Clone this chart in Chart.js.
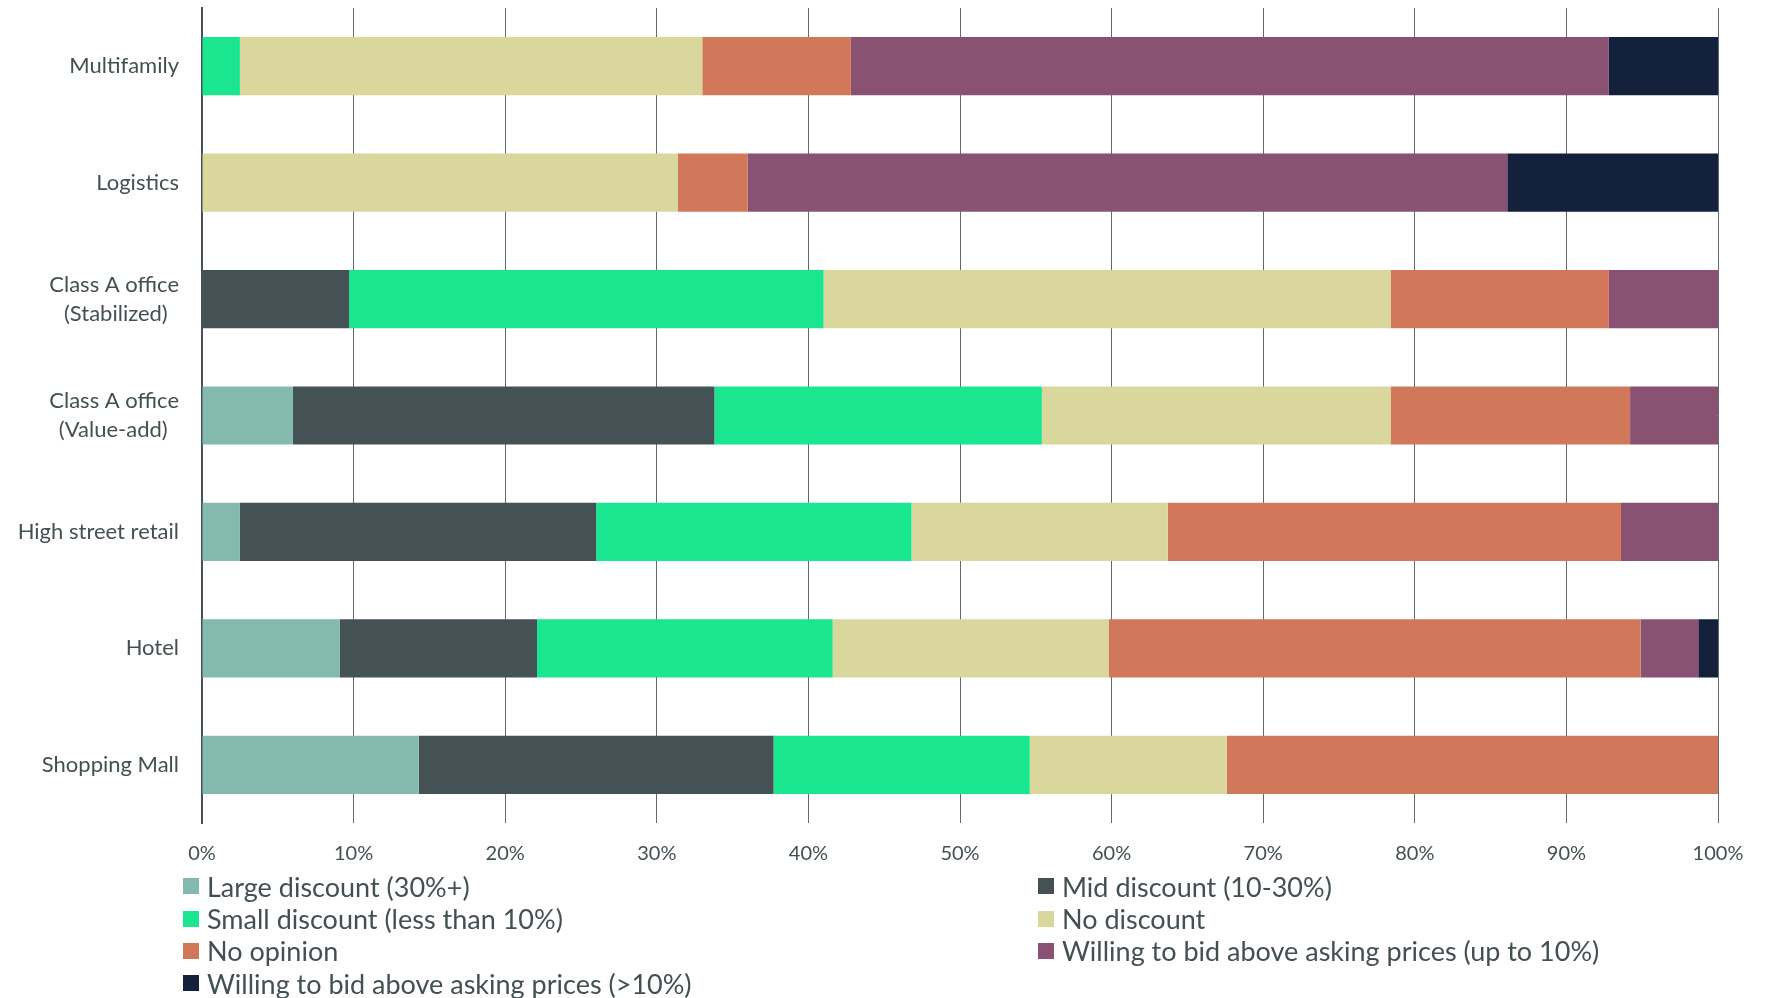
<!DOCTYPE html>
<html>
<head>
<meta charset="utf-8">
<script src="https://cdn.jsdelivr.net/npm/chart.js@4/dist/chart.umd.min.js"></script>
<style>
    html, body { margin: 0; padding: 0; background: #ffffff; }
    #wrap { position: relative; width: 1773px; height: 998px; }
    #legend {
        position: absolute; left: 183px; top: 870px; width: 1580px;
        display: grid; grid-template-columns: 855px 720px;
        font-family: Lato, "Open Sans", sans-serif; font-size: 27px; color: #435052;
    }
    .item { display: flex; align-items: center; height: 32.4px; white-space: nowrap; }
    .box { width: 16px; height: 16px; margin-right: 8px; flex: none; }
</style>
</head>
<body>
<div id="wrap">
    <canvas id="myChart" width="1773" height="998"></canvas>
    <div id="legend"></div>
</div>
<script>
// categories (top to bottom)
const categories = [
    'Multifamily',
    'Logistics',
    ['Class A office', '(Stabilized)'],
    ['Class A office', '(Value-add)'],
    'High street retail',
    'Hotel',
    'Shopping Mall'
];

// series values, % of respondents
const largeDiscount = [0, 0, 0, 6.0, 2.5, 9.1, 14.3];
const midDiscount = [0, 0, 9.7, 27.8, 23.5, 13.0, 23.4];
const smallDiscount = [2.5, 0, 31.3, 21.6, 20.8, 19.5, 16.9];
const noDiscount = [30.5, 31.4, 37.4, 23.0, 16.9, 18.2, 13.0];
const noOpinion = [9.8, 4.6, 14.4, 15.8, 29.9, 35.1, 32.5];
const bidUpTo10 = [50.0, 50.1, 7.2, 5.8, 6.4, 3.8, 0];
const bidAbove10 = [7.2, 13.9, 0, 0, 0, 1.3, 0];

const seriesNames = [
    'Large discount (30%+)',
    'Mid discount (10-30%)',
    'Small discount (less than 10%)',
    'No discount',
    'No opinion',
    'Willing to bid above asking prices (up to 10%)',
    'Willing to bid above asking prices (>10%)'
];
const seriesColors = ['#83baad', '#445256', '#19e68f', '#dad79d', '#d2785a', '#895172', '#14213d'];
const seriesData = [largeDiscount, midDiscount, smallDiscount, noDiscount, noOpinion, bidUpTo10, bidAbove10];

// x axis ticks
const tickValues = [0, 10, 20, 30, 40, 50, 60, 70, 80, 90, 100];

const textColor = '#435052';
const fontFamily = 'Lato, "Open Sans", sans-serif';
const yFontSize = 22;

// two-line labels are centred on each other in the original, so pad the
// shorter line with trailing nbsp's (the whole block stays right aligned)
const measureCtx = document.createElement('canvas').getContext('2d');
const centerLines = (label) => {
    if (!Array.isArray(label)) return label;
    measureCtx.font = yFontSize + 'px ' + fontFamily;
    const widths = label.map(l => measureCtx.measureText(l).width);
    const maxW = Math.max(...widths);
    const spaceW = measureCtx.measureText('\u00a0').width;
    return label.map((l, i) => {
        const n = Math.round((maxW - widths[i]) / 2 / spaceW);
        return l + '\u00a0'.repeat(n);
    });
};

const renderChart = () => {
    const canvas = document.getElementById('myChart');
    const ctx = canvas.getContext('2d');

    const datasets = seriesNames.map((name, i) => ({
        label: name,
        data: seriesData[i],
        backgroundColor: seriesColors[i],
        borderWidth: 0,
        barPercentage: 0.5,
        categoryPercentage: 1.0
    }));

    window.myChart = new Chart(ctx, {
        type: 'bar',
        data: { labels: categories, datasets: datasets },
        options: {
            indexAxis: 'y',
            responsive: false,
            animation: false,
            layout: { padding: { top: 8, right: 55, bottom: 133, left: 0 } },
            plugins: {
                legend: { display: false },
                tooltip: { enabled: false }
            },
            scales: {
                x: {
                    stacked: true,
                    min: 0,
                    max: 100,
                    afterBuildTicks: (scale) => {
                        scale.ticks = tickValues.map(v => ({ value: v }));
                    },
                    afterFit: (scale) => { scale.height = 42; },
                    ticks: {
                        color: textColor,
                        font: { family: fontFamily, size: 20 },
                        padding: 19,
                        maxRotation: 0,
                        callback: (v) => v + '%'
                    },
                    grid: {
                        color: '#5f6a6a',
                        lineWidth: 1,
                        drawTicks: false
                    },
                    border: { display: false }
                },
                y: {
                    stacked: true,
                    afterFit: (scale) => {
                        scale.width = 202;
                        scale.paddingTop = 0;
                        scale.paddingBottom = 0;
                    },
                    ticks: {
                        color: textColor,
                        font: { family: fontFamily, size: yFontSize, lineHeight: 1.32 },
                        padding: 15,
                        callback: function(v) { return centerLines(this.getLabelForValue(v)); }
                    },
                    grid: { display: false },
                    border: { display: true, color: '#465255', width: 2 }
                }
            }
        }
    });

    // html legend built from the datasets
    const legend = document.getElementById('legend');
    datasets.forEach(ds => {
        const item = document.createElement('div');
        item.className = 'item';
        const box = document.createElement('span');
        box.className = 'box';
        box.style.background = ds.backgroundColor;
        const txt = document.createElement('span');
        txt.textContent = ds.label;
        item.appendChild(box);
        item.appendChild(txt);
        legend.appendChild(item);
    });
};

document.addEventListener('DOMContentLoaded', function() {
    renderChart();
});
</script>
</body>
</html>
